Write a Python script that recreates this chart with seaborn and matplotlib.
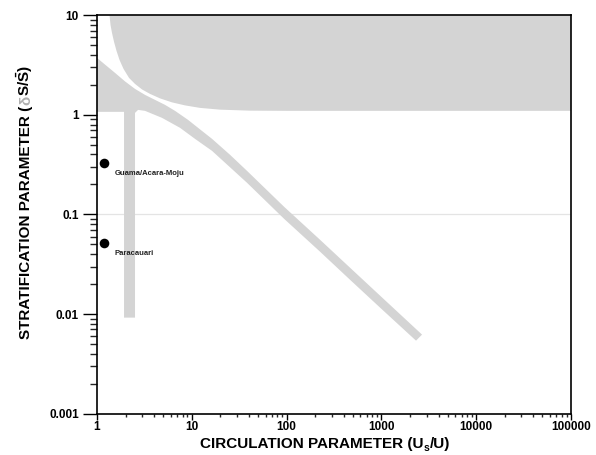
import matplotlib
matplotlib.use('Agg')
import matplotlib.pyplot as plt
import seaborn as sns
import pandas as pd
from matplotlib.ticker import FixedLocator, FixedFormatter, LogLocator, NullFormatter

sns.set_style('ticks')
plt.rcParams['font.family'] = ['Liberation Sans', 'DejaVu Sans']
plt.rcParams['mathtext.fontset'] = 'custom'
plt.rcParams['mathtext.rm'] = 'Liberation Sans:bold'
plt.rcParams['mathtext.bf'] = 'Liberation Sans:bold'

# Estuary stations (circulation Us/U, stratification dS/S)
site_names = ['Guama/Acara-Moju', 'Paracauari']
circulation = [1.18, 1.18]
stratification = [0.33, 0.052]

# Upper-right shaded region (salt wedge zone) boundary
wedge_x = [1.355, 1.388, 1.439, 1.512, 1.606, 1.727, 1.904, 2.176, 2.516, 2.983,
           3.623, 4.62, 6.18, 8.48, 12.2, 19.84, 41.1, 108.6, 100000, 100000]
wedge_y = [10, 7.99, 6.64, 5.40, 4.385, 3.56, 2.893, 2.35, 2.046, 1.80,
           1.624, 1.464, 1.335, 1.245, 1.175, 1.128, 1.102, 1.097, 1.097, 10]

# Left region + vertical bar + diagonal band, upper edge (left to right)
band_top_x = [1, 1.244, 1.548, 1.974, 2.516, 3.209, 4.09, 5.216, 6.65, 9.12, 12.2,
              16.34, 25.3, 38.2, 93.9, 225, 466, 967, 2682]
band_top_y = [3.73, 3.137, 2.64, 2.168, 1.823, 1.587, 1.414, 1.26, 1.097, 0.891, 0.715,
              0.574, 0.397, 0.274, 0.1195, 0.0557, 0.0292, 0.0153, 0.00621]
# lower edge (from band tip back to the left axis)
band_low_x = [2317, 967, 466, 225, 93.9, 38.2, 16.34, 10.81, 7.51, 4.85, 3.21, 2.71,
              2.516, 2.516, 1.927, 1.927, 1]
band_low_y = [0.0054, 0.0116, 0.0221, 0.0423, 0.0905, 0.208, 0.435, 0.574, 0.741,
              0.933, 1.097, 1.122, 1.047, 0.0092, 0.0092, 1.072, 1.072]

x_ticks = [1, 10, 100, 1000, 10000, 100000]
x_ticklabels = ['1', '10', '100', '1000', '10000', '100000']
y_ticks = [0.001, 0.01, 0.1, 1, 10]
y_ticklabels = ['0.001', '0.01', '0.1', '1', '10']

shade = '#d4d4d4'

fig = plt.figure(figsize=(5.96, 4.55), dpi=100)
ax = fig.add_axes([0.1628, 0.091, 0.7953, 0.8754])
ax.set_xscale('log')
ax.set_yscale('log')

ax.axhline(0.1, color='#e4e4e4', lw=0.9, zorder=0.5)
ax.fill(wedge_x, wedge_y, color=shade, lw=0, zorder=1)
ax.fill(band_top_x + band_low_x, band_top_y + band_low_y, color=shade, lw=0, zorder=1)

sites = pd.DataFrame({'site': site_names, 'circ': circulation, 'strat': stratification})
sns.scatterplot(data=sites, x='circ', y='strat', ax=ax, color='black', s=48,
                linewidth=0, zorder=3, legend=False)
for name, xv, yv in zip(site_names, circulation, stratification):
    ax.text(xv * 1.31, yv * 0.78, name, fontsize=5.5, fontweight='bold',
            ha='left', va='center', color='#222222')

ax.set_xlim(1, 100000)
ax.set_ylim(0.001, 10)
ax.set_xlabel('')
ax.set_ylabel('')
ax.xaxis.set_major_locator(FixedLocator(x_ticks))
ax.xaxis.set_major_formatter(FixedFormatter(x_ticklabels))
ax.yaxis.set_major_locator(FixedLocator(y_ticks))
ax.yaxis.set_major_formatter(FixedFormatter(y_ticklabels))
ax.xaxis.set_minor_locator(LogLocator(base=10, subs=range(2, 10), numticks=20))
ax.yaxis.set_minor_locator(LogLocator(base=10, subs=range(2, 10), numticks=20))
ax.xaxis.set_minor_formatter(NullFormatter())
ax.yaxis.set_minor_formatter(NullFormatter())

ax.tick_params(axis='y', which='major', length=10, width=1, pad=3, labelsize=8.5, colors='black')
ax.tick_params(axis='y', which='minor', length=5, width=1)
ax.tick_params(axis='x', which='major', length=4, width=1, pad=1, labelsize=8.5, colors='black')
ax.tick_params(axis='x', which='minor', length=2.5, width=1)
for lab in ax.get_xticklabels() + ax.get_yticklabels():
    lab.set_fontweight('bold')
for sp in ax.spines.values():
    sp.set_visible(True)
    sp.set_color('black')
    sp.set_linewidth(1.2)

W, H = fig.get_size_inches() * fig.dpi
fig.canvas.draw()
renderer = fig.canvas.get_renderer()

# x label in pieces (subscript s)
xpieces = [('CIRCULATION PARAMETER (U', 11, 0), ('s', 7.5, -3), ('/U)', 11, 0)]
xtexts = []
for s, size, dy in xpieces:
    t = fig.text(0, 0, s, ha='left', va='baseline', fontsize=size,
                 fontweight='bold', color='black')
    xtexts.append((t, dy))
widths = [t.get_window_extent(renderer).width for t, _ in xtexts]
xpos = 325 - sum(widths) / 2
for (t, dy), w in zip(xtexts, widths):
    t.set_position((xpos / W, (H - 448 + dy) / H))
    xpos += w

# y label in pieces so the delta can be grey
pieces = [('STRATIFICATION PARAMETER (', 'black'), ('\u03b4', '#b0b0b0'),
          (r'S/$\bar{\mathrm{S}}$)', 'black')]
texts = []
for s, c in pieces:
    t = fig.text(0, 0, s, rotation=90, rotation_mode='anchor', ha='left',
                 va='baseline', color=c, fontsize=11, fontweight='bold')
    texts.append(t)
lengths = [t.get_window_extent(renderer).height for t in texts]
ypos = (H - 202) - sum(lengths) / 2
for t, L in zip(texts, lengths):
    t.set_position((30 / W, ypos / H))
    ypos += L

fig.savefig('out.png', dpi=100)
